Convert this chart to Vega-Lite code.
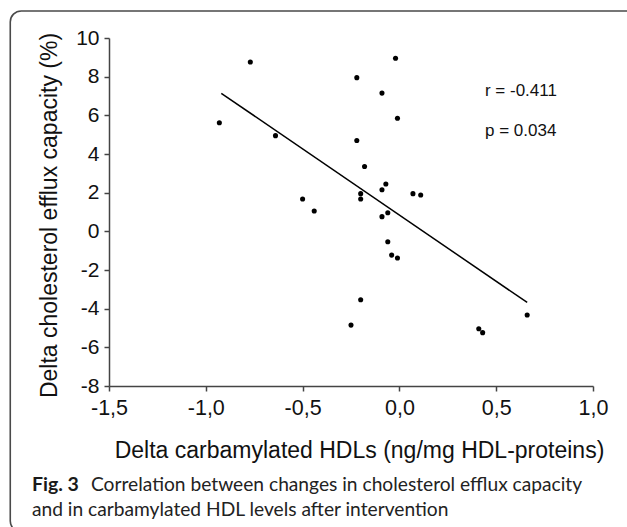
{
  "$schema": "https://vega.github.io/schema/vega-lite/v6.json",
  "width": 484,
  "height": 348,
  "autosize": {"type": "none"},
  "padding": {"left": 109, "top": 38, "right": 34, "bottom": 141},
  "background": "white",
  "data": {"values": [{}]},
  "config": {
    "view": {"stroke": null},
    "locale": {"number": {"decimal": ",", "thousands": ".", "grouping": [3], "currency": ["", ""], "minus": "-"}},
    "axis": {
      "grid": false,
      "domainColor": "#444444", "domainWidth": 1.5,
      "tickColor": "#444444", "tickWidth": 1.5, "tickSize": 5,
      "labelFont": "Liberation Sans", "labelColor": "#111111",
      "labelFlush": false,
      "titleFont": "Liberation Sans", "titleFontSize": 23, "titleFontWeight": "normal", "titleColor": "#111111"
    },
    "axisX": {"labelFontSize": 21.5, "labelPadding": 6},
    "axisY": {"labelFontSize": 21, "labelPadding": 5}
  },
  "datasets": {
    "points": [
      {"x": -0.93, "y": 5.62}, {"x": -0.77, "y": 8.76}, {"x": -0.64, "y": 4.95},
      {"x": -0.50, "y": 1.67}, {"x": -0.44, "y": 1.05}, {"x": -0.02, "y": 8.95},
      {"x": -0.22, "y": 7.95}, {"x": -0.09, "y": 7.15}, {"x": -0.01, "y": 5.85},
      {"x": -0.22, "y": 4.70}, {"x": -0.18, "y": 3.35}, {"x": -0.07, "y": 2.45},
      {"x": -0.09, "y": 2.15}, {"x": -0.20, "y": 1.95}, {"x": -0.20, "y": 1.67},
      {"x": 0.07, "y": 1.95}, {"x": 0.11, "y": 1.88}, {"x": -0.09, "y": 0.76},
      {"x": -0.06, "y": 0.96}, {"x": -0.06, "y": -0.54}, {"x": -0.04, "y": -1.23},
      {"x": -0.01, "y": -1.38}, {"x": -0.20, "y": -3.54}, {"x": -0.25, "y": -4.85},
      {"x": 0.41, "y": -5.04}, {"x": 0.43, "y": -5.24}, {"x": 0.66, "y": -4.33}
    ],
    "fit": [{"x": -0.92, "y": 7.14}, {"x": 0.66, "y": -3.68}]
  },
  "layer": [
    {
      "data": {"name": "points"},
      "mark": {"type": "circle", "size": 26, "color": "#000000", "opacity": 1},
      "encoding": {
        "x": {
          "field": "x", "type": "quantitative",
          "scale": {"domain": [-1.5, 1], "nice": false, "zero": false},
          "axis": {
            "title": "Delta carbamylated HDLs (ng/mg HDL-proteins)",
            "values": [-1.5, -1, -0.5, 0, 0.5, 1],
            "tickCount": 20,
            "format": ".1f",
            "labelOverlap": false,
            "titleX": 250, "titleY": 71, "titleAlign": "center", "titleBaseline": "alphabetic"
          }
        },
        "y": {
          "field": "y", "type": "quantitative",
          "scale": {"domain": [-8, 10], "nice": false, "zero": false},
          "axis": {
            "title": "Delta cholesterol efflux capacity (%)",
            "values": [-8, -6, -4, -2, 0, 2, 4, 6, 8, 10],
            "tickCount": 20,
            "format": "d",
            "labelOverlap": false,
            "titleX": -53, "titleY": 177, "titleAngle": 270, "titleAlign": "center", "titleBaseline": "alphabetic"
          }
        }
      }
    },
    {
      "mark": {"type": "rect", "fill": null, "stroke": "#4a4a4a", "strokeWidth": 1.6, "cornerRadius": 11},
      "encoding": {
        "x": {"datum": -2.01, "type": "quantitative"},
        "x2": {"datum": 1.25},
        "y": {"datum": 11.4, "type": "quantitative"},
        "y2": {"datum": -15.55}
      }
    },
    {
      "data": {"name": "fit"},
      "mark": {"type": "line", "color": "#000000", "strokeWidth": 1.5},
      "encoding": {
        "x": {"field": "x", "type": "quantitative"},
        "y": {"field": "y", "type": "quantitative"}
      }
    },
    {
      "mark": {"type": "text", "text": "r = -0.411", "font": "Liberation Sans", "fontSize": 17, "align": "left", "baseline": "alphabetic", "color": "#111111"},
      "encoding": {"x": {"datum": 0.442, "type": "quantitative"}, "y": {"datum": 7.02, "type": "quantitative"}}
    },
    {
      "mark": {"type": "text", "text": "p = 0.034", "font": "Liberation Sans", "fontSize": 17, "align": "left", "baseline": "alphabetic", "color": "#111111"},
      "encoding": {"x": {"datum": 0.442, "type": "quantitative"}, "y": {"datum": 4.95, "type": "quantitative"}}
    },
    {
      "mark": {"type": "text", "text": "Fig. 3", "font": "Lato", "fontSize": 19.5, "fontWeight": "bold", "align": "left", "baseline": "alphabetic", "color": "#1a1a1a"},
      "encoding": {"x": {"datum": -1.898, "type": "quantitative"}, "y": {"datum": -13.43, "type": "quantitative"}}
    },
    {
      "mark": {"type": "text", "text": "Correlation between changes in cholesterol efflux capacity", "font": "Lato", "fontSize": 19.2, "align": "left", "baseline": "alphabetic", "color": "#222222"},
      "encoding": {"x": {"datum": -1.593, "type": "quantitative"}, "y": {"datum": -13.43, "type": "quantitative"}}
    },
    {
      "mark": {"type": "text", "text": "and in carbamylated HDL levels after intervention", "font": "Lato", "fontSize": 19.2, "align": "left", "baseline": "alphabetic", "color": "#222222"},
      "encoding": {"x": {"datum": -1.898, "type": "quantitative"}, "y": {"datum": -14.71, "type": "quantitative"}}
    }
  ]
}
